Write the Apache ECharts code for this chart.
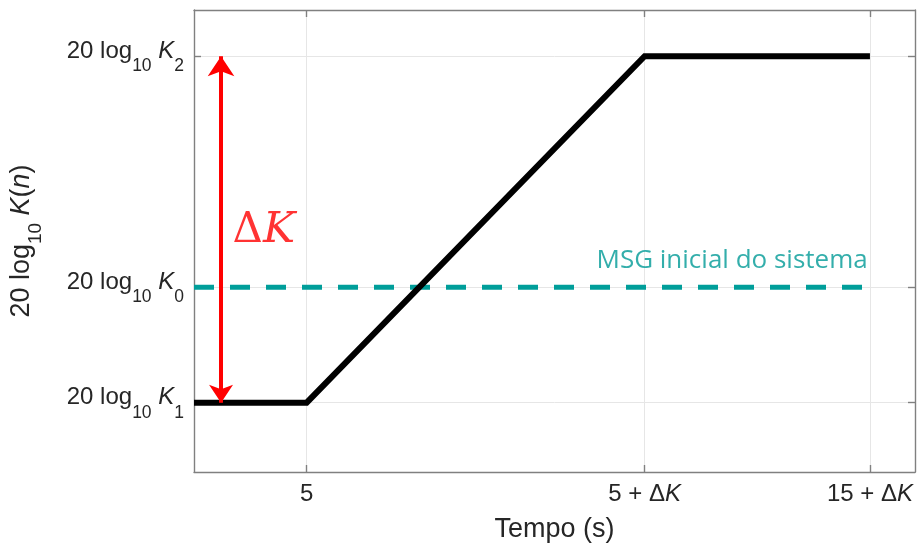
<!DOCTYPE html>
<html><head><meta charset="utf-8">
<script src="https://cdn.jsdelivr.net/npm/echarts@6/dist/echarts.min.js"></script>
<style>html,body{margin:0;padding:0;background:#fff}#c{width:920px;height:548px}</style>
</head><body><div id="c"></div>
<script>
// Data
var dK = 15;
var xTickValues = [5, 5 + dK, 15 + dK];
var xTickLabels = ['5', '5 + \u0394{it|K}', '15 + \u0394{it|K}'];
var yTickValues = [0, 5, 15];          // 20log10 K1, K0, K2
var yTickSubs = ['1', '0', '2'];
var profileX = [0, 5, 5 + dK, 15 + dK];
var profileY = [0, 0, 15, 15];
var msgX = [0, 30];
var msgY = [5, 5];
var arrowX = 1.2;
var arrowY = [0, 15];
var dKLabelPos = [3.1, 7.45];
var msgLabelPos = [29.9, 6.15];

var chart = echarts.init(document.getElementById('c'));
var lblColor = '#262626';
var FF = 'Liberation Sans';
var richY = {
  n: {fontFamily: FF, fontSize: 24, color: lblColor},
  it: {fontFamily: FF, fontSize: 24, fontStyle: 'italic', color: lblColor},
  sub: {fontFamily: FF, fontSize: 17.5, color: lblColor, verticalAlign: 'bottom', padding: [0,0,-12,0]}
};
var lineSt = {color:'#808080',width:1.4};
function tick(){ return {show:true,inside:true,length:7,customValues:null,lineStyle:lineSt}; }
chart.setOption({
  animation:false,
  grid:{left:193,right:5,top:10,bottom:74},
  xAxis:[
    {type:'value',min:0,max:32,position:'bottom',
      axisLine:{show:true,onZero:false,lineStyle:lineSt},
      axisTick:Object.assign(tick(),{customValues:xTickValues}),
      axisLabel:{customValues:xTickValues,margin:10,fontFamily:FF,fontSize:24,color:lblColor,
        formatter:function(v){var i=xTickValues.indexOf(v);return i<0?'':xTickLabels[i];},
        rich:{it:{fontFamily:FF,fontSize:24,fontStyle:'italic',color:lblColor}}},
      splitLine:{show:true,lineStyle:{color:'#e6e6e6',width:1}},
      name:'Tempo (s)',nameLocation:'middle',nameGap:44,
      nameTextStyle:{fontFamily:FF,fontSize:27,color:lblColor}},
    {type:'value',min:0,max:32,position:'top',
      axisLine:{show:true,onZero:false,lineStyle:lineSt},
      axisTick:Object.assign(tick(),{customValues:xTickValues}),
      axisLabel:{show:false},splitLine:{show:false}}
  ],
  yAxis:[
    {type:'value',min:-3,max:17,position:'left',
      axisLine:{show:true,onZero:false,lineStyle:lineSt},
      axisTick:Object.assign(tick(),{customValues:yTickValues}),
      axisLabel:{customValues:yTickValues,margin:10,padding:[0,0,10,0],
        formatter:function(v){var i=yTickValues.indexOf(v);return i<0?'':'{n|20 log}{sub|10}{n| }{it|K}{sub|'+yTickSubs[i]+'}';},
        rich:richY},
      splitLine:{show:true,lineStyle:{color:'#e6e6e6',width:1}},
      name:'{n|20 log}{sub|10}{n| }{it|K}{n|(}{it|n}{n|)}',nameLocation:'middle',nameGap:159,
      nameTextStyle:{rich:{
        n:{fontFamily:FF,fontSize:27,color:lblColor},
        it:{fontFamily:FF,fontSize:27,fontStyle:'italic',color:lblColor},
        sub:{fontFamily:FF,fontSize:19,color:lblColor,verticalAlign:'bottom',padding:[0,0,-10,0]}}}},
    {type:'value',min:-3,max:17,position:'right',
      axisLine:{show:true,onZero:false,lineStyle:lineSt},
      axisTick:Object.assign(tick(),{customValues:yTickValues}),
      axisLabel:{show:false},splitLine:{show:false}}
  ],
  series:[
    {type:'line',data:msgX.map(function(x,i){return [x,msgY[i]];}),symbol:'none',
     lineStyle:{color:'#009e9a',width:5,type:[20,16]},z:3},
    {type:'line',data:profileX.map(function(x,i){return [x,profileY[i]];}),symbol:'none',
     lineStyle:{color:'#000',width:6,join:'miter'},z:4},
    {type:'lines',coordinateSystem:'cartesian2d',z:5,
     data:[{coords:[[arrowX,arrowY[0]],[arrowX,arrowY[1]]]}],
     symbol:['arrow','arrow'],symbolSize:[18,20],
     lineStyle:{color:'#ff0000',width:4,opacity:1}},
    {type:'scatter',symbolSize:0,z:6,silent:true,
     data:[{value:dKLabelPos,label:{show:true,position:'inside',formatter:'{d|\u0394}{k|K}',
       rich:{d:{fontFamily:'DejaVu Serif',fontSize:42,color:'#ff0000'},
             k:{fontFamily:'DejaVu Serif',fontSize:43,fontStyle:'italic',color:'#ff0000'}}}},
       {value:msgLabelPos,label:{show:true,position:'left',distance:0,formatter:'MSG inicial do sistema',
       fontFamily:'Open Sans',fontSize:26,color:'#009a96'}}]}
  ]
});
</script></body></html>
